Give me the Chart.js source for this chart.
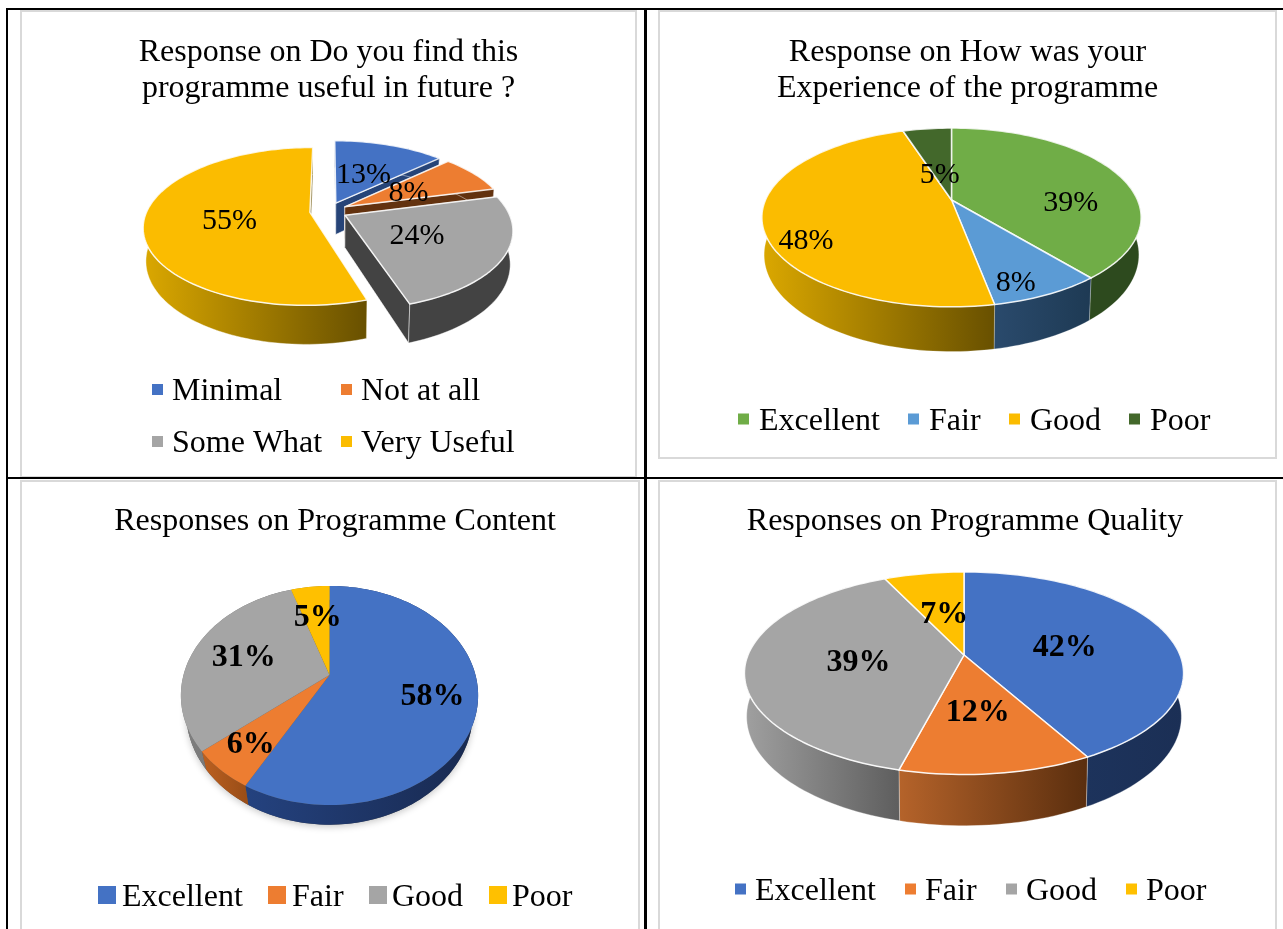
<!DOCTYPE html>
<html><head><meta charset="utf-8">
<script src="https://cdn.jsdelivr.net/npm/chart.js@4/dist/chart.umd.min.js"></script>
<style>
html,body{margin:0;padding:0;background:#fff;width:1283px;height:929px;overflow:hidden}
canvas{position:absolute;display:block}
.line{position:absolute}
</style></head><body>
<script>
// ---- data ----
const usefulLabels = ['Minimal','Not at all','Some What','Very Useful'];
const usefulValues = [13,8,24,55];
const experienceLabels = ['Excellent','Fair','Good','Poor'];
const experienceValues = [39,8,48,5];
const contentLabels = ['Excellent','Fair','Good','Poor'];
const contentValues = [58,6,31,5];
const qualityLabels = ['Excellent','Fair','Good','Poor'];
const qualityValues = [42,12,39,7];

const FONT = '"Liberation Serif","Times New Roman",serif';

// ---- table rules and chart frames ----
function rule(l,t,w,h,c){const d=document.createElement('div');d.className='line';
  d.style.cssText=`left:${l}px;top:${t}px;width:${w}px;height:${h}px;background:${c}`;document.body.appendChild(d);}
const G='#d9d9d9';
[[20,10,2,468],[635,10,2,468],[20,10,617,2],[20,476,617,2],
 [658,10,2,449],[1275,10,2,449],[658,10,619,2],[658,457,619,2],
 [20,480,2,449],[638,480,2,449],[20,480,620,2],
 [658,480,2,449],[1275,480,2,449],[658,480,619,2]].forEach(r=>rule(...r,G));
[[6,8,1277,2],[6,8,2,921],[644,8,3,921],[6,477,1277,2]].forEach(r=>rule(...r,'#000'));

// ---- chart definitions ----
const charts = [
 {title:['Response on Do you find this','programme useful in future ?'],labels:usefulLabels,values:usefulValues,
  box:[22,11,613,465],pad:{},
  cx:328.5,cy:211,rx:163,ry:76,k:.177,depth:32,taper:.015,explode:.115,
  face:['#4472C4','#ED7D31','#A5A5A5','#FBBC00'],
  side:[['#264478','#264478'],['#63320f','#63320f'],['#434343','#434343'],['#DBA800','#685000']],
  edge:'rgba(255,255,255,.85)',sideEdge:'rgba(255,255,255,.55)',
  labelFont:'30px '+FONT,
  labelAt:[[.236,-.548],[.514,-.276],[.516,.2875],[-.596,.103]],
  legendBox:11,legend:[[152,172,389.5],[341,361,389.5],[152,172,441.5],[341,361,441.5]]},
 {title:['Response on How was your','Experience of the programme'],labels:experienceLabels,values:experienceValues,
  box:[660,11,615,446],pad:{},
  cx:951.5,cy:200,rx:186,ry:86,k:.195,depth:36,taper:.012,explode:0,
  face:['#70AD47','#5B9BD5','#FBBC00','#43682B'],
  side:[['#2D4A1E','#2D4A1E'],['#2A4A6C','#1E3A54'],['#DBA800','#685000'],['#2D4A1E','#2D4A1E']],
  edge:'rgba(255,255,255,.85)',sideEdge:'rgba(255,255,255,.3)',
  labelFont:'30px '+FONT,
  labelAt:[[.64,.012],[.292,.796],[-.719,.417],[-.067,-.335]],
  legendBox:11,legend:[[738,759,419],[908,929,419],[1009,1030,419],[1129,1150,419]]},
 {title:['Responses on Programme Content'],labels:contentLabels,values:contentValues,
  box:[22,482,616,447],pad:{left:10},
  cx:329.5,cy:675,rx:146,ry:105.7,k:.187,depth:16,taper:.035,explode:0,
  face:['#4472C4','#ED7D31','#A5A5A5','#FFC000'],
  side:[['#24427F','#18294F'],['#BC6020','#9A4E18'],['#808080','#666666'],['#B38600','#B38600']],
  edge:null,sideEdge:null,shadow:true,
  labelFont:'bold 32px '+FONT,
  labelAt:[[.682,.183],[-.482,.574],[-.608,-.186],[-.09,-.623]],
  legendBox:18,legend:[[98,122,895],[268,292,895],[369,392,895],[489,512,895]]},
 {title:['Responses on Programme Quality'],labels:qualityLabels,values:qualityValues,
  box:[660,482,615,447],pad:{right:5},
  cx:964,cy:655,rx:216,ry:98,k:.18,depth:42,taper:.01,explode:0,
  face:['#4472C4','#ED7D31','#A5A5A5','#FFC000'],
  side:[['#1F3864','#1B2F55'],['#B5632A','#5A2E0E'],['#A0A0A0','#5E5E5E'],['#B38600','#B38600']],
  edge:'rgba(255,255,255,.9)',sideEdge:'rgba(255,255,255,.4)',
  labelFont:'bold 32px '+FONT,
  labelAt:[[.474,-.093],[.058,.518],[-.483,.06],[-.099,-.465]],
  legendBox:11,legend:[[735,755,889],[905,925,889],[1006,1026,889],[1126,1146,889]]}
];

// ---- perspective pie, using the angles Chart.js computes for each arc ----
const pie3d = {
  id:'pie3d',
  beforeDatasetDraw(chart,args){
    const g=chart.config.options.plugins.pie3d, ctx=chart.ctx, ox=g.box[0], oy=g.box[1];
    const proj=(u,v,d=0)=>{const s=1/(1-g.k*v),t=d?1-g.taper:1;return [g.cx-ox+g.rx*u*s*t, g.cy-oy+g.ry*v*s+d*s];};
    const arcs=chart.getDatasetMeta(args.index).data.map((el,i)=>{
      const mid=(el.startAngle+el.endAngle)/2;
      const ex=Math.cos(mid)*g.explode, ey=Math.sin(mid)*g.explode;
      const n=Math.max(4,Math.ceil((el.endAngle-el.startAngle)/0.03));
      const pts=[];
      for(let j=0;j<=n;j++){const a=el.startAngle+(el.endAngle-el.startAngle)*j/n;pts.push([Math.cos(a)+ex,Math.sin(a)+ey]);}
      return {i,ex,ey,pts,order:ey};
    });
    const poly=(list,fill,stroke,lw)=>{ctx.beginPath();list.forEach((p,j)=>j?ctx.lineTo(p[0],p[1]):ctx.moveTo(p[0],p[1]));ctx.closePath();
      ctx.fillStyle=fill;ctx.fill();if(stroke){ctx.strokeStyle=stroke;ctx.lineWidth=lw;ctx.lineJoin='round';ctx.stroke();}};
    arcs.sort((a,b)=>a.order-b.order);
    if(g.shadow){
      ctx.save();ctx.shadowColor='rgba(0,0,0,.22)';ctx.shadowBlur=7;ctx.shadowOffsetY=2;
      const ring=[];for(let j=0;j<=120;j++){const a=j/120*Math.PI*2;ring.push(proj(Math.cos(a),Math.sin(a),g.depth));}
      poly(ring,'#555');ctx.restore();
    }
    // all sides first, back to front; radial walls only show on exploded slices
    arcs.forEach(a=>{
      const top=a.pts.map(p=>proj(p[0],p[1])), low=a.pts.map(p=>proj(p[0],p[1],g.depth));
      const apex=proj(a.ex,a.ey), apexLow=proj(a.ex,a.ey,g.depth);
      const xs=top.map(p=>p[0]);
      const grad=ctx.createLinearGradient(Math.min(...xs),0,Math.max(...xs),0);
      grad.addColorStop(0,g.side[a.i][0]);grad.addColorStop(1,g.side[a.i][1]);
      if(g.explode){
        poly([apex,top[0],low[0],apexLow],g.side[a.i][0],g.sideEdge,1);
        poly([apex,top[top.length-1],low[low.length-1],apexLow],g.side[a.i][1],g.sideEdge,1);
      }
      poly(top.concat(low.slice().reverse()),grad,g.sideEdge,.8);
    });
    // then all top faces
    arcs.forEach(a=>{
      const top=a.pts.map(p=>proj(p[0],p[1]));
      poly([proj(a.ex,a.ey)].concat(top),g.face[a.i],g.edge,1.5);
    });
    ctx.fillStyle='#000';ctx.font=g.labelFont;ctx.textAlign='center';ctx.textBaseline='middle';
    chart.data.datasets[args.index].data.forEach((val,i)=>{
      const p=proj(g.labelAt[i][0],g.labelAt[i][1]);
      ctx.fillText(val+'%',p[0],p[1]+2);
    });
    return false;
  },
  afterDraw(chart){
    const g=chart.config.options.plugins.pie3d, ctx=chart.ctx, ox=g.box[0], oy=g.box[1];
    ctx.save();ctx.font='32px '+FONT;ctx.textAlign='left';ctx.textBaseline='middle';
    chart.data.labels.forEach((t,i)=>{
      const [bx,tx,y]=g.legend[i], b=g.legendBox;
      ctx.fillStyle=g.face[i];ctx.fillRect(bx-ox,y-oy-b/2,b,b);
      ctx.fillStyle='#000';ctx.fillText(t,tx-ox,y-oy+2.5);
    });
    ctx.restore();
  }
};

charts.forEach(g=>{
  const c=document.createElement('canvas');
  c.width=g.box[2];c.height=g.box[3];
  c.style.left=g.box[0]+'px';c.style.top=g.box[1]+'px';
  document.body.appendChild(c);
  new Chart(c,{
    type:'pie',
    data:{labels:g.labels,datasets:[{data:g.values,backgroundColor:g.face}]},
    options:{
      responsive:false,animation:false,
      layout:{padding:g.pad},
      plugins:{
        legend:{display:false},tooltip:{enabled:false},
        title:{display:true,text:g.title,color:'#000',
          font:{family:FONT,size:32,weight:'normal',lineHeight:36/32},
          padding:{top:g.box[1]>100?22:24,bottom:4}},
        pie3d:g
      }
    },
    plugins:[pie3d]
  });
});
</script>
</body></html>
